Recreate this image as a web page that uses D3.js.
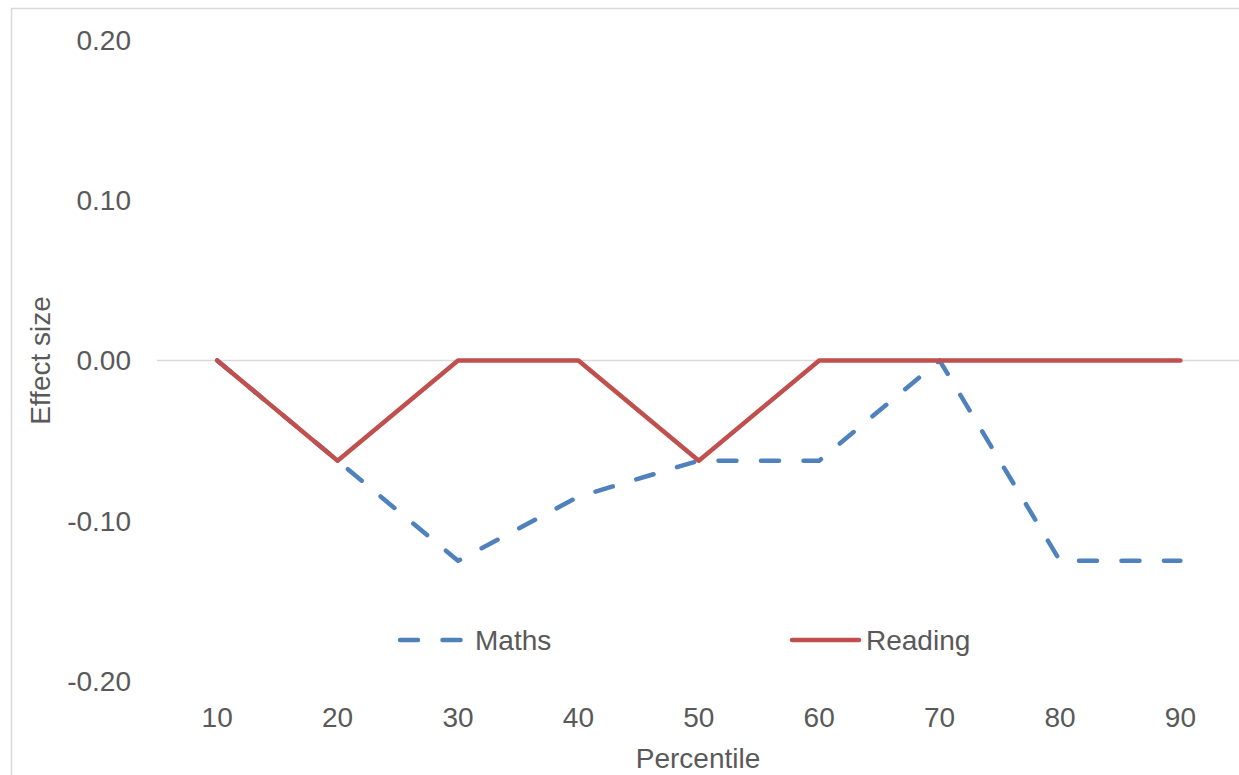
<!DOCTYPE html>
<html>
<head>
<meta charset="utf-8">
<script src="https://cdn.jsdelivr.net/npm/d3@7"></script>
<style>
  body { margin: 0; background: #fff; }
  text { font-family: "Liberation Sans", Arial, sans-serif; fill: #595959; }
</style>
</head>
<body>
<svg width="1239" height="775"></svg>
<script>
// Data
const percentiles = ["10", "20", "30", "40", "50", "60", "70", "80", "90"];
const maths = [0, -0.0625, -0.125, -0.085, -0.0625, -0.0625, 0, -0.125, -0.125];
const reading = [0, -0.0625, 0, 0, -0.0625, 0, 0, 0, 0];
const yTicks = [0.2, 0.1, 0, -0.1, -0.2];

const width = 1239, height = 775;
const plot = { left: 157, right: 1240.6, top: 40, bottom: 681 };
const fontSize = "28px";

const svg = d3.select("svg");

// chart area border (left + top edges visible)
svg.append("path")
  .attr("d", `M11.5,${height} V8.5 H${width}`)
  .attr("fill", "none")
  .attr("stroke", "#d9d9d9")
  .attr("stroke-width", 1.5);

const x = d3.scaleBand().domain(percentiles).range([plot.left, plot.right]);
const y = d3.scaleLinear().domain([-0.2, 0.2]).range([plot.bottom, plot.top]);

// zero line
svg.append("line")
  .attr("x1", plot.left).attr("x2", width)
  .attr("y1", y(0)).attr("y2", y(0))
  .attr("stroke", "#d9d9d9")
  .attr("stroke-width", 1.5);

// y tick labels (plain hyphen for negatives, like the original)
svg.append("g").selectAll("text")
  .data(yTicks)
  .enter().append("text")
  .attr("x", 131)
  .attr("y", d => y(d))
  .attr("dy", "0.35em")
  .style("text-anchor", "end")
  .style("font-size", fontSize)
  .text(d => d.toFixed(2));

// x tick labels
svg.append("g").selectAll("text")
  .data(percentiles)
  .enter().append("text")
  .attr("x", d => x(d) + x.bandwidth() / 2)
  .attr("y", 717)
  .attr("dy", "0.35em")
  .style("text-anchor", "middle")
  .style("font-size", fontSize)
  .text(d => d);

// axis titles
svg.append("text")
  .attr("x", 698)
  .attr("y", 758)
  .attr("dy", "0.35em")
  .style("text-anchor", "middle")
  .style("font-size", fontSize)
  .text("Percentile");

svg.append("text")
  .attr("transform", `translate(40,${y(0)}) rotate(-90)`)
  .attr("dy", "0.35em")
  .style("text-anchor", "middle")
  .style("font-size", fontSize)
  .text("Effect size");

const line = d3.line()
  .x((d, i) => x(percentiles[i]) + x.bandwidth() / 2)
  .y(d => y(d));

const series = [
  { name: "Maths", values: maths, color: "#4f81bd", dash: "18,24.5" },
  { name: "Reading", values: reading, color: "#c0504d", dash: null }
];

series.forEach(s => {
  svg.append("path")
    .attr("d", line(s.values))
    .attr("fill", "none")
    .attr("stroke", s.color)
    .attr("stroke-width", 4.5)
    .attr("stroke-linecap", "round")
    .attr("stroke-linejoin", "round")
    .attr("stroke-dasharray", s.dash);
});

// legend
const legendItems = [
  { s: series[0], x0: 400, x1: 461, tx: 475 },
  { s: series[1], x0: 792, x1: 859, tx: 866 }
];
legendItems.forEach(l => {
  svg.append("line")
    .attr("x1", l.x0).attr("x2", l.x1)
    .attr("y1", 640).attr("y2", 640)
    .attr("stroke", l.s.color)
    .attr("stroke-width", 4.5)
    .attr("stroke-linecap", "round")
    .attr("stroke-dasharray", l.s.dash);
  svg.append("text")
    .attr("x", l.tx)
    .attr("y", 640)
    .attr("dy", "0.35em")
    .style("font-size", fontSize)
    .text(l.s.name);
});
</script>
</body>
</html>
